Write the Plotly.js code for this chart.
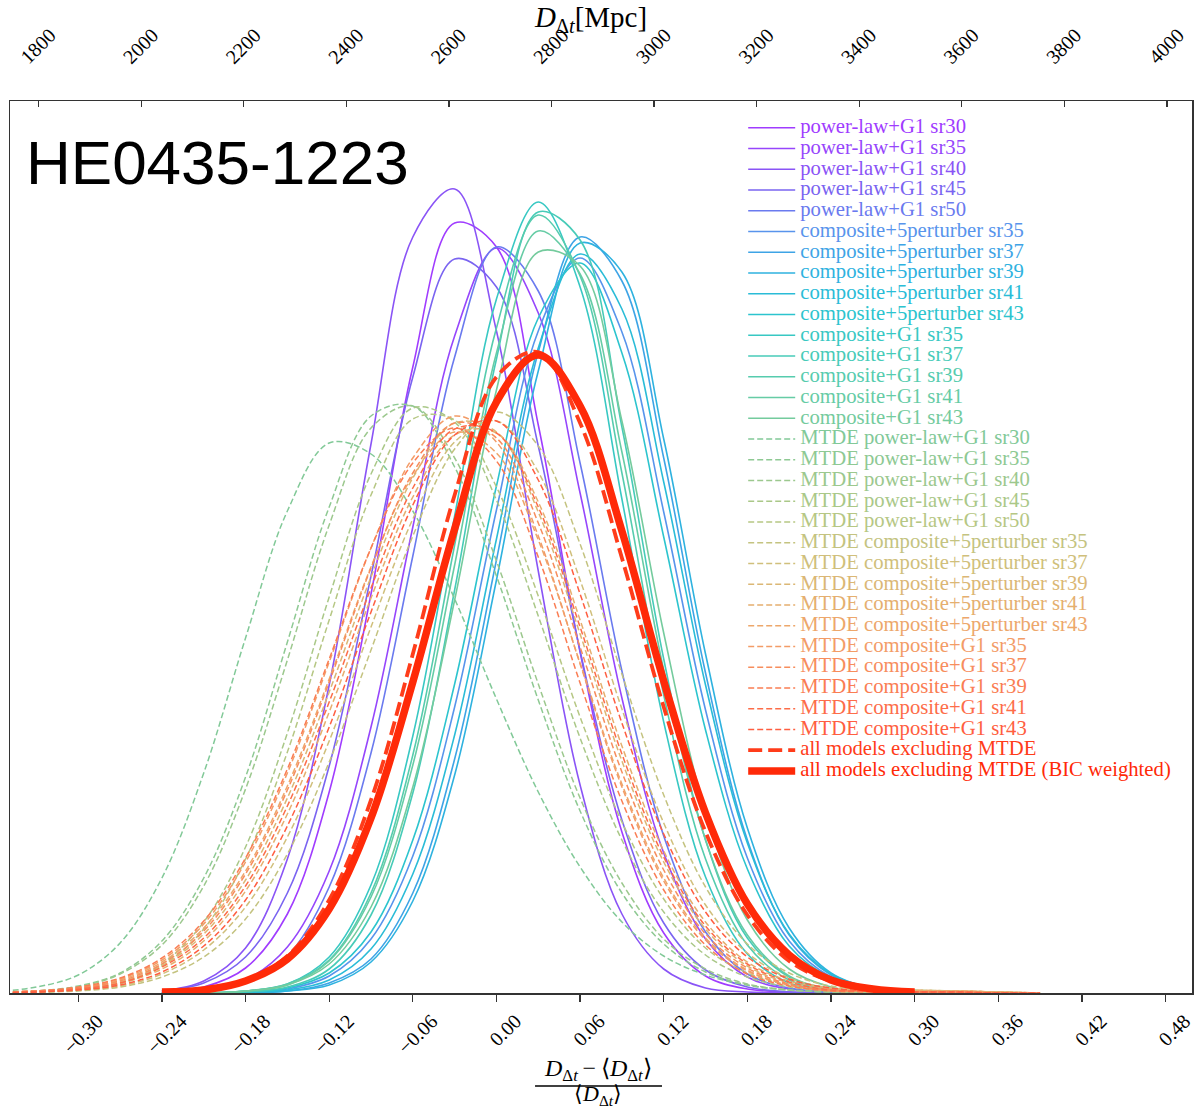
<!DOCTYPE html>
<html>
<head>
<meta charset="utf-8">
<script src="https://cdn.plot.ly/plotly-3.0.1.min.js"></script>
<style>
  html, body { margin: 0; padding: 0; background: #ffffff; }
  #chart { width: 1198px; height: 1111px; }
</style>
</head>
<body>
<div id="chart"></div>
<script>
// ---- data: relative deviation grid (bottom axis) ----
const relDev = [-0.36, -0.33, -0.30, -0.27, -0.24, -0.21, -0.18, -0.15, -0.12, -0.09, -0.06, -0.03,
                0.00, 0.03, 0.06, 0.09, 0.12, 0.15, 0.18, 0.21, 0.24, 0.27, 0.30, 0.33, 0.36, 0.39];

// ---- density values ----
const plSr30 = [null,null,null,null,0.01,0.06,0.25,0.79,2.01,3.99,6.26,7.70,7.46,5.68,3.41,1.61,0.60,0.17,0.04,0.01,0,0,0,null,null,null];
const plSr35 = [null,null,null,null,0.01,0.03,0.13,0.46,1.22,2.66,4.66,6.57,7.45,6.80,5.00,2.95,1.40,0.54,0.16,0.04,0.01,0,0,null,null,null];
const plSr40 = [null,null,null,null,0.02,0.12,0.45,1.34,3.08,5.49,7.56,8.04,6.62,4.22,2.08,0.79,0.24,0.05,0.01,0,0,0,0,null,null,null];
const plSr45 = [null,null,null,null,0.02,0.10,0.36,1.00,2.27,4.17,6.16,7.34,7.06,5.47,3.42,1.73,0.70,0.23,0.06,0.01,0,0,0,null,null,null];
const plSr50 = [null,null,null,null,0.00,0.02,0.11,0.37,1.06,2.40,4.37,6.36,7.46,7.02,5.30,3.22,1.57,0.61,0.19,0.05,0.01,0,0,null,null,null];

const c5pSr35 = [null,null,null,null,0,0,0.01,0.04,0.17,0.54,1.37,2.86,4.83,6.62,7.35,6.61,4.81,2.83,1.35,0.52,0.16,0.04,0.01,null,null,null];
const c5pSr37 = [null,null,null,null,0,0,0.00,0.02,0.10,0.34,1.00,2.34,4.33,6.41,7.56,7.12,5.35,3.20,1.53,0.58,0.18,0.04,0.01,null,null,null];
const c5pSr39 = [null,null,null,null,0,0,0,0.02,0.08,0.31,0.92,2.18,4.13,6.22,7.50,7.21,5.54,3.39,1.65,0.65,0.20,0.05,0.01,null,null,null];
const c5pSr41 = [null,null,null,null,0,0,0.01,0.03,0.13,0.44,1.19,2.58,4.54,6.45,7.39,6.84,5.11,3.08,1.50,0.59,0.19,0.05,0.01,null,null,null];
const c5pSr43 = [null,null,null,null,0,0,0.01,0.05,0.20,0.61,1.53,3.09,5.07,6.75,7.30,6.40,4.56,2.63,1.24,0.47,0.15,0.04,0.01,null,null,null];

const cg1Sr35 = [null,null,null,null,0,0.00,0.02,0.09,0.36,1.08,2.57,4.77,6.94,7.91,7.06,4.94,2.71,1.16,0.39,0.10,0.02,0,0,null,null,null];
const cg1Sr37 = [null,null,null,null,0,0,0.01,0.06,0.24,0.78,2.00,4.03,6.34,7.81,7.53,5.66,3.34,1.53,0.55,0.16,0.03,0.01,0,null,null,null];
const cg1Sr39 = [null,null,null,null,0,0,0.02,0.09,0.33,1.00,2.38,4.48,6.65,7.78,7.17,5.20,2.98,1.34,0.48,0.13,0.03,0.01,0,null,null,null];
const cg1Sr41 = [null,null,null,null,0,0,0.02,0.08,0.32,0.96,2.28,4.28,6.40,7.62,7.19,5.41,3.23,1.53,0.58,0.17,0.04,0.01,0,null,null,null];
const cg1Sr43 = [null,null,null,null,0,0,0.02,0.08,0.29,0.86,2.06,3.93,6.03,7.41,7.27,5.72,3.60,1.81,0.73,0.24,0.06,0.01,0,null,null,null];

const mtdePlSr30 = [0.01,0.06,0.18,0.50,1.15,2.20,3.55,4.82,5.50,5.39,4.82,3.94,2.94,2.01,1.26,0.71,0.37,0.18,0.08,0.03,0.01,0,0,0,0,0];
const mtdePlSr35 = [0.00,0.02,0.07,0.20,0.52,1.15,2.16,3.51,4.86,5.77,5.87,5.26,4.17,2.93,1.82,1.00,0.49,0.21,0.08,0.03,0.01,0,0,0,0,0];
const mtdePlSr40 = [0.00,0.02,0.06,0.19,0.48,1.07,2.04,3.33,4.68,5.65,5.87,5.35,4.32,3.09,1.95,1.10,0.54,0.24,0.09,0.03,0.01,0,0,0,0,0];
const mtdePlSr45 = [0.00,0.01,0.03,0.10,0.29,0.71,1.46,2.60,3.96,5.19,5.85,5.71,4.93,3.77,2.55,1.53,0.81,0.38,0.16,0.06,0.02,0,0,0,0,0];
const mtdePlSr50 = [0.00,0.01,0.03,0.09,0.27,0.64,1.34,2.41,3.73,4.98,5.74,5.73,5.06,3.97,2.76,1.71,0.94,0.45,0.20,0.08,0.03,0.01,0,0,0,0];

const mtdeC5pSr35 = [0.00,0.01,0.02,0.06,0.16,0.36,0.74,1.39,2.31,3.43,4.57,5.44,5.81,5.47,4.49,3.19,1.98,1.06,0.49,0.20,0.07,0.04,0.03,0.02,0.01,0];
const mtdeC5pSr37 = [0.00,0.01,0.03,0.07,0.19,0.43,0.86,1.56,2.52,3.66,4.74,5.51,5.72,5.21,4.13,2.84,1.70,0.88,0.40,0.15,0.05,0.03,0.02,0.02,0.01,0];
const mtdeC5pSr39 = [0.00,0.01,0.04,0.11,0.27,0.59,1.13,1.95,3.01,4.16,5.15,5.70,5.61,4.81,3.59,2.32,1.31,0.64,0.27,0.10,0.04,0.03,0.02,0.02,0.01,0];
const mtdeC5pSr41 = [0.00,0.01,0.04,0.10,0.24,0.52,1.02,1.79,2.81,3.95,4.96,5.58,5.60,4.91,3.73,2.47,1.42,0.71,0.31,0.12,0.05,0.04,0.03,0.02,0.01,0];
const mtdeC5pSr43 = [0.01,0.02,0.05,0.13,0.31,0.65,1.22,2.07,3.14,4.26,5.17,5.61,5.40,4.53,3.30,2.09,1.15,0.55,0.23,0.08,0.03,0.03,0.02,0.02,0.01,0];

const mtdeCg1Sr35 = [0.01,0.02,0.05,0.14,0.33,0.69,1.31,2.20,3.31,4.45,5.35,5.77,5.51,4.57,3.29,2.06,1.12,0.53,0.22,0.08,0.02,0.02,0.01,0.01,0,0];
const mtdeCg1Sr37 = [0.00,0.02,0.05,0.12,0.29,0.62,1.19,2.03,3.11,4.25,5.20,5.70,5.55,4.70,3.46,2.21,1.23,0.59,0.25,0.09,0.03,0.02,0.01,0.01,0,0];
const mtdeCg1Sr39 = [0.01,0.02,0.06,0.15,0.35,0.72,1.35,2.24,3.34,4.45,5.30,5.65,5.32,4.36,3.10,1.92,1.03,0.48,0.19,0.07,0.02,0.01,0.01,0,0,0];
const mtdeCg1Sr41 = [0.00,0.01,0.04,0.10,0.26,0.55,1.07,1.87,2.91,4.05,5.05,5.64,5.60,4.86,3.66,2.39,1.36,0.67,0.29,0.11,0.03,0.02,0.01,0.01,0,0];
const mtdeCg1Sr43 = [0.00,0.01,0.03,0.08,0.21,0.47,0.93,1.67,2.66,3.81,4.88,5.58,5.72,5.13,3.99,2.70,1.59,0.81,0.36,0.14,0.05,0.02,0.01,0.01,0,0];

const allNoMtde    = [null,null,null,null,0.01,0.04,0.13,0.37,0.93,1.93,3.39,4.98,6.16,6.41,5.70,4.35,2.86,1.61,0.78,0.32,0.12,0.04,0.01,null,null,null];
const allNoMtdeBic = [null,null,null,null,0.01,0.03,0.12,0.34,0.84,1.75,3.11,4.64,5.91,6.38,5.87,4.62,3.12,1.80,0.89,0.38,0.13,0.04,0.01,null,null,null];

// ---- labels ----
const seriesLabels = [
  'power-law+G1 sr30','power-law+G1 sr35','power-law+G1 sr40','power-law+G1 sr45','power-law+G1 sr50',
  'composite+5perturber sr35','composite+5perturber sr37','composite+5perturber sr39','composite+5perturber sr41','composite+5perturber sr43',
  'composite+G1 sr35','composite+G1 sr37','composite+G1 sr39','composite+G1 sr41','composite+G1 sr43',
  'MTDE power-law+G1 sr30','MTDE power-law+G1 sr35','MTDE power-law+G1 sr40','MTDE power-law+G1 sr45','MTDE power-law+G1 sr50',
  'MTDE composite+5perturber sr35','MTDE composite+5perturber sr37','MTDE composite+5perturber sr39','MTDE composite+5perturber sr41','MTDE composite+5perturber sr43',
  'MTDE composite+G1 sr35','MTDE composite+G1 sr37','MTDE composite+G1 sr39','MTDE composite+G1 sr41','MTDE composite+G1 sr43',
  'all models excluding MTDE','all models excluding MTDE (BIC weighted)'
];
const seriesValues = [
  plSr30, plSr35, plSr40, plSr45, plSr50,
  c5pSr35, c5pSr37, c5pSr39, c5pSr41, c5pSr43,
  cg1Sr35, cg1Sr37, cg1Sr39, cg1Sr41, cg1Sr43,
  mtdePlSr30, mtdePlSr35, mtdePlSr40, mtdePlSr45, mtdePlSr50,
  mtdeC5pSr35, mtdeC5pSr37, mtdeC5pSr39, mtdeC5pSr41, mtdeC5pSr43,
  mtdeCg1Sr35, mtdeCg1Sr37, mtdeCg1Sr39, mtdeCg1Sr41, mtdeCg1Sr43,
  allNoMtde, allNoMtdeBic
];
const bottomTickVals = [-0.30,-0.24,-0.18,-0.12,-0.06,0.00,0.06,0.12,0.18,0.24,0.30,0.36,0.42,0.48];
const bottomTickText = ['\u22120.30','\u22120.24','\u22120.18','\u22120.12','\u22120.06','0.00','0.06','0.12','0.18','0.24','0.30','0.36','0.42','0.48'];
const topTickVals = [1800,2000,2200,2400,2600,2800,3000,3200,3400,3600,3800,4000];
const chartLabel = 'HE0435-1223';
const topTitle = '<i>D</i><sub>\u0394<i>t</i></sub>[Mpc]';
const fracTop = '<i>D</i><sub>\u0394<i>t</i></sub>\u2009\u2212\u2009\u27E8<i>D</i><sub>\u0394<i>t</i></sub>\u27E9';
const fracBottom = '\u27E8<i>D</i><sub>\u0394<i>t</i></sub>\u27E9';

// ---- styles (kept apart from data) ----
const lineColors = [
  '#a03cff','#9646fc','#8a54f6','#7a64f1','#6a7aef',
  '#5894ec','#3ea4e6','#2eb2df','#2abcd7','#2cc4ce',
  '#38c8c3','#47cbb8','#56ccae','#66cca5','#74cb9d',
  '#82c998','#8ec993','#9cc88e','#aac888','#b6c784',
  '#c4c380','#d0bf7b','#dbb775','#e5af6f','#eda76b',
  '#f39c67','#f78d5d','#fa7d53','#fd6d49','#ff5e40',
  '#ff3c1a','#ff2a08'
];

// invisible carrier so that the top (Mpc) axis is built
const traces = [{
  type: 'scatter', mode: 'lines', x: topTickVals, y: topTickVals.map(() => null),
  xaxis: 'x2', yaxis: 'y', showlegend: false, hoverinfo: 'skip', line: { width: 0 }
}];

seriesValues.forEach((vals, i) => {
  let dash = 'solid', width = 1.6;
  if (i >= 15 && i < 30) { dash = '6px,3px'; width = 1.5; }
  if (i === 30) { dash = '14px,6px'; width = 3.8; }
  if (i === 31) { dash = 'solid'; width = 7.5; }
  traces.push({
    type: 'scatter', mode: 'lines',
    x: relDev, y: vals,
    name: '<span style="font-size:20.7px;color:' + lineColors[i] + '">' + seriesLabels[i] + '</span>',
    line: { color: lineColors[i], width: width, dash: dash, shape: 'spline', smoothing: 1 },
    connectgaps: false,
    hoverinfo: 'skip'
  });
});

const serif = 'Liberation Serif, Times New Roman, serif';
const layout = {
  width: 1198, height: 1111,
  margin: { l: 10, r: 6, t: 101, b: 118 },
  paper_bgcolor: '#ffffff', plot_bgcolor: '#ffffff',
  showlegend: true,
  legend: {
    x: 0.6203, y: 0.9872, xanchor: 'left', yanchor: 'top',
    bgcolor: 'rgba(0,0,0,0)', borderwidth: 0,
    font: { family: serif, size: 13.65, color: '#000' },
    itemwidth: 47, tracegroupgap: 0
  },
  xaxis: {
    range: [-0.349, 0.499],
    tickmode: 'array', tickvals: bottomTickVals, ticktext: bottomTickText,
    tickangle: -45, ticks: 'outside', ticklen: 7, tickwidth: 1.3, tickcolor: '#333',
    ticklabelshift: 19,
    showline: true, linecolor: '#333', linewidth: 1.5, mirror: true,
    showgrid: false, zeroline: false,
    tickfont: { family: serif, size: 20, color: '#000' }
  },
  xaxis2: {
    overlaying: 'x', side: 'top', anchor: 'y',
    range: [1744, 4049],
    tickmode: 'array', tickvals: topTickVals,
    tickangle: -45, ticks: 'inside', ticklen: 6, tickwidth: 1.3, tickcolor: '#333',
    ticklabelshift: -17, ticklabelstandoff: 28,
    showline: false, showgrid: false, zeroline: false,
    tickfont: { family: serif, size: 20, color: '#000' }
  },
  yaxis: {
    range: [0, 8.92],
    showticklabels: false, ticks: '', showgrid: false, zeroline: false,
    showline: true, linecolor: '#333', linewidth: 1.5, mirror: true
  },
  shapes: [{
    type: 'line', xref: 'paper', yref: 'paper',
    x0: 0.4442, x1: 0.5516, y0: -0.1043, y1: -0.1043,
    line: { color: '#000', width: 1.6 }
  }],
  annotations: [
    {
      text: chartLabel, xref: 'paper', yref: 'paper', x: 0.012, y: 0.931,
      xanchor: 'left', yanchor: 'middle', showarrow: false,
      font: { family: 'Liberation Sans, Arial, sans-serif', size: 62, color: '#000' }
    },
    {
      text: topTitle, xref: 'paper', yref: 'paper', x: 0.4907, y: 1.0915,
      xanchor: 'center', yanchor: 'middle', showarrow: false,
      font: { family: serif, size: 29, color: '#000' }
    },
    {
      text: fracTop, xref: 'paper', yref: 'paper', x: 0.4975, y: -0.0858,
      xanchor: 'center', yanchor: 'middle', showarrow: false, borderpad: 0,
      font: { family: serif, size: 24, color: '#000' }
    },
    {
      text: fracBottom, xref: 'paper', yref: 'paper', x: 0.4975, y: -0.1145,
      xanchor: 'center', yanchor: 'middle', showarrow: false, borderpad: 0,
      font: { family: serif, size: 22, color: '#000' }
    }
  ]
};

Plotly.newPlot('chart', traces, layout, { displayModeBar: false, staticPlot: true });
</script>
</body>
</html>
